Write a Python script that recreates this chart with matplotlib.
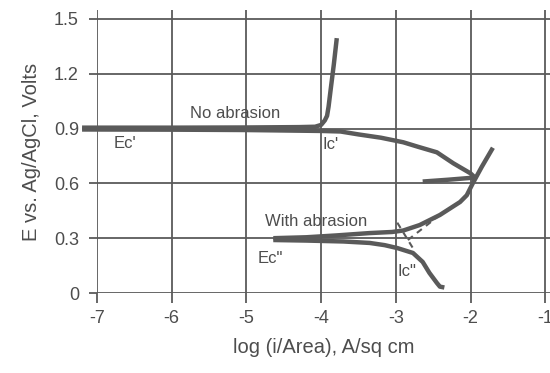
import matplotlib

matplotlib.use("Agg")
import matplotlib.pyplot as plt

plt.rcParams["font.family"] = ["Liberation Sans", "DejaVu Sans"]

INK = "#5a5a5a"
TEXT = "#4d4d4d"

# log current density (A/sq cm) and potential (V vs Ag/AgCl)
no_abr_anodic_x = [-7.2, -6.0, -5.0, -4.3, -4.08, -4.0, -3.95, -3.92, -3.9, -3.87, -3.83, -3.79]
no_abr_anodic_y = [0.905, 0.905, 0.906, 0.908, 0.91, 0.92, 0.945, 0.97, 1.02, 1.12, 1.25, 1.395]

no_abr_cathodic_x = [-7.2, -6.0, -5.0, -4.0, -3.74, -3.5, -3.2, -2.9, -2.7, -2.45, -2.23, -2.0, -1.94, -2.3, -2.64]
no_abr_cathodic_y = [0.895, 0.894, 0.892, 0.887, 0.884, 0.868, 0.85, 0.825, 0.80, 0.77, 0.71, 0.655, 0.632, 0.62, 0.61]

abr_anodic_x = [-4.64, -4.2, -3.8, -3.35, -3.05, -2.9, -2.68, -2.41, -2.14, -2.05, -1.97, -1.85, -1.70]
abr_anodic_y = [0.30, 0.305, 0.315, 0.328, 0.334, 0.342, 0.372, 0.427, 0.498, 0.535, 0.60, 0.69, 0.795]

abr_cathodic_x = [-4.64, -4.2, -3.7, -3.35, -3.15, -2.98, -2.77, -2.64, -2.55, -2.45, -2.41, -2.35]
abr_cathodic_y = [0.29, 0.287, 0.282, 0.274, 0.262, 0.246, 0.219, 0.17, 0.11, 0.055, 0.035, 0.03]

# Tafel extrapolations for the abraded sample
tafel_anodic_x = [-2.41, -2.87]
tafel_anodic_y = [0.427, 0.28]
tafel_cathodic_x = [-2.98, -2.74]
tafel_cathodic_y = [0.385, 0.225]

x_ticks = [-7, -6, -5, -4, -3, -2, -1]
y_ticks = [0, 0.3, 0.6, 0.9, 1.2, 1.5]
y_tick_labels = ["0", "0.3", "0.6", "0.9", "1.2", "1.5"]

annotations = [
    ("No abrasion", -5.15, 0.985),
    ("Ec'", -6.62, 0.82),
    ("Ic'", -3.87, 0.815),
    ("With abrasion", -4.07, 0.39),
    ("Ec\"", -4.68, 0.19),
    ("Ic\"", -2.85, 0.115),
]


def main():
    fig = plt.figure(figsize=(5.5, 3.73), dpi=100)
    ax = fig.add_axes([97 / 550, 80 / 373, 453 / 550, 283 / 373])

    ax.set_xlim(-7, -7 + 453 / 74.7)
    ax.set_ylim(0, 283 / 182.7)

    for side in ax.spines.values():
        side.set_visible(False)

    ax.set_xticks(x_ticks, labels=[str(v) for v in x_ticks])
    ax.set_yticks(y_ticks, labels=y_tick_labels)
    ax.grid(True, color=INK, linewidth=1.3)
    ax.set_axisbelow(True)
    ax.tick_params(axis="x", direction="out", length=7, width=1.3, color=INK,
                   labelsize=13, labelcolor=TEXT, pad=5)
    ax.tick_params(axis="y", direction="out", length=6, width=1.3, color=INK,
                   labelsize=13, labelcolor=TEXT, pad=7)

    curve = dict(color=INK, linewidth=3.2, solid_capstyle="butt", solid_joinstyle="round", clip_on=False)
    ax.plot(no_abr_anodic_x, no_abr_anodic_y, **curve)
    ax.plot(no_abr_cathodic_x, no_abr_cathodic_y, **curve)
    ax.plot(abr_anodic_x, abr_anodic_y, **curve)
    ax.plot(abr_cathodic_x, abr_cathodic_y, **curve)

    dashed = dict(color=INK, linewidth=1.5, linestyle=(0, (3, 2.5)))
    ax.plot(tafel_anodic_x, tafel_anodic_y, **dashed)
    ax.plot(tafel_cathodic_x, tafel_cathodic_y, **dashed)

    for label, x, y in annotations:
        ax.text(x, y, label, ha="center", va="center", fontsize=12, color=TEXT)

    ax.set_xlabel("log (i/Area), A/sq cm", fontsize=14.5, color=TEXT, labelpad=8)
    ax.set_ylabel("E vs. Ag/AgCl, Volts", fontsize=14.5, color=TEXT, labelpad=9)

    fig.savefig("out.png", dpi=100, facecolor="white")
    plt.close(fig)


if __name__ == "__main__":
    main()
